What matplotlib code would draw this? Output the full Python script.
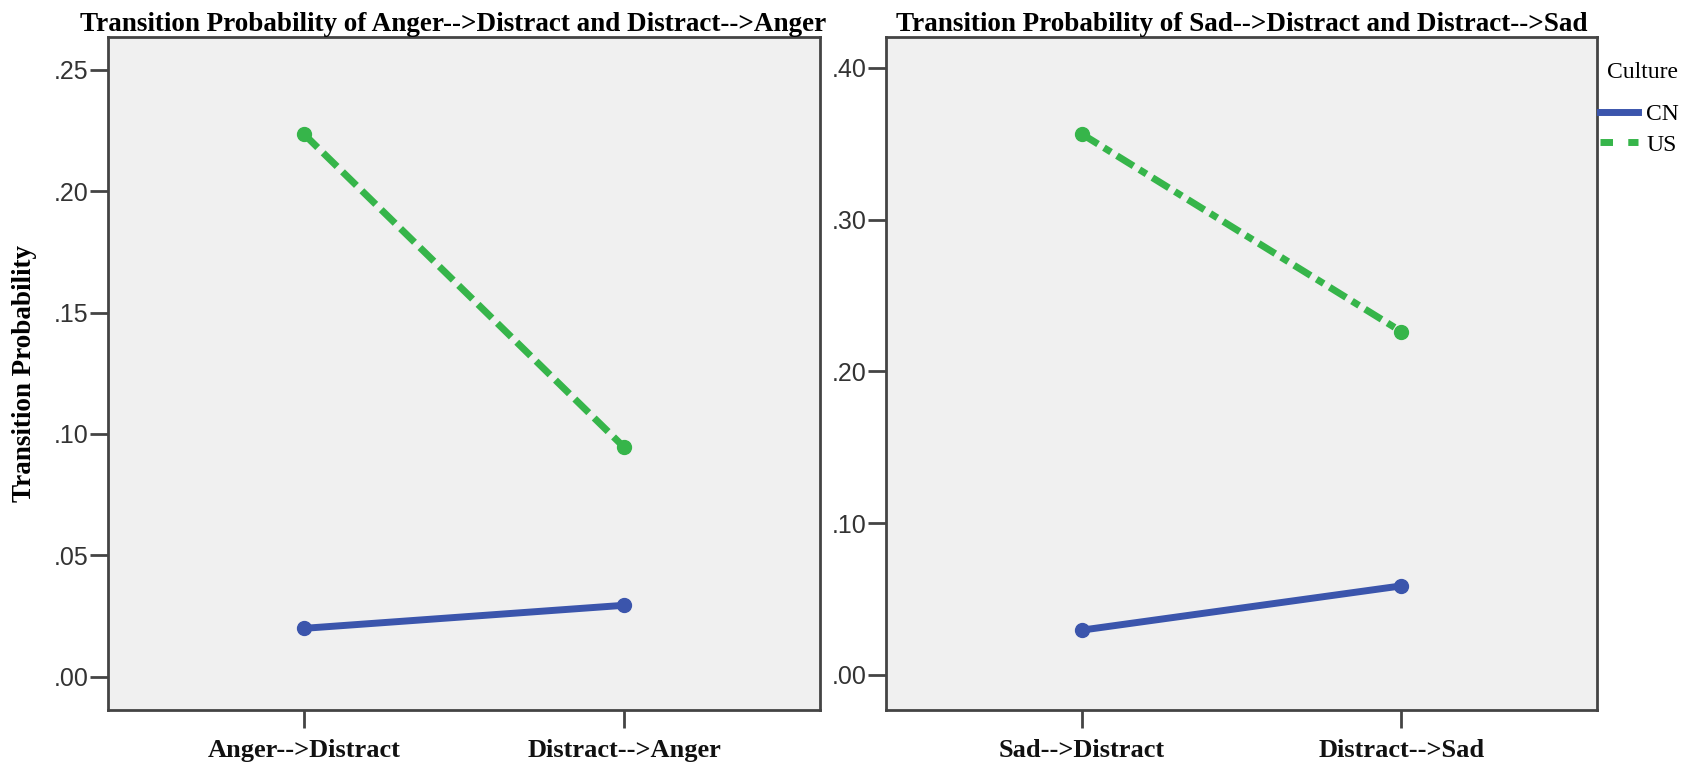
import matplotlib
matplotlib.use('Agg')
import matplotlib.pyplot as plt
from matplotlib.lines import Line2D
from matplotlib.ticker import FuncFormatter

###############################
# Data

anger_cats = ['Anger-->Distract', 'Distract-->Anger']
anger_cn = [0.020, 0.0295]
anger_us = [0.2235, 0.0945]

sad_cats = ['Sad-->Distract', 'Distract-->Sad']
sad_cn = [0.0295, 0.0587]
sad_us = [0.3566, 0.2262]

anger_yticks = [0.00, 0.05, 0.10, 0.15, 0.20, 0.25]
sad_yticks = [0.00, 0.10, 0.20, 0.30, 0.40]

titles = ['Transition Probability of Anger-->Distract and Distract-->Anger',
          'Transition Probability of Sad-->Distract and Distract-->Sad']

cultures = ['CN', 'US']

###############################
# Style

blue = '#3b55ac'
green = '#36b54a'
bg = '#f0f0f0'
spine_col = '#444444'
serif = 'Liberation Serif'
sans = 'Liberation Sans'

W, H = 1702, 763
fig = plt.figure(figsize=(W / 100, H / 100), dpi=100)

def fmt(v, pos):
    return '%.2f' % v if v < 0 else ('%.2f' % v).lstrip('0')

def panel(rect, cats, cn, us, yticks, ylim, us_dash, title, tx):
    ax = fig.add_axes(rect)
    ax.set_facecolor(bg)
    x = range(len(cats))
    ax.plot(x, cn, color=blue, lw=5, marker='o', ms=10, solid_capstyle='round')
    ax.plot(x, us, color=green, lw=5, marker='o', ms=10,
            linestyle=(0, us_dash), dash_capstyle='butt')
    ax.set_xlim(-0.611, 1.611)
    ax.set_ylim(ylim)
    ax.set_xticks(list(x))
    ax.set_xticklabels(cats, fontfamily=serif, fontweight='bold', fontsize=19,
                       color='#111111')
    ax.set_yticks(yticks)
    ax.yaxis.set_major_formatter(FuncFormatter(fmt))
    for lab in ax.get_yticklabels():
        lab.set_fontfamily(sans)
        lab.set_fontsize(18)
        lab.set_color('#333333')
    ax.tick_params(axis='both', length=13, width=2, color=spine_col)
    ax.tick_params(axis='y', pad=1)
    ax.tick_params(axis='x', pad=8)
    for sp in ax.spines.values():
        sp.set_color(spine_col)
        sp.set_linewidth(2)
    ax.set_title(title, fontfamily=serif, fontweight='bold', fontsize=19.5,
                 pad=4, x=tx)
    return ax

def frac(x0, y0, x1, y1):
    return [x0 / W, 1 - y1 / H, (x1 - x0) / W, (y1 - y0) / H]

ax1 = panel(frac(108, 37, 820, 710), anger_cats, anger_cn, anger_us,
            anger_yticks, (-0.0136, 0.2634), (2.8, 1.1), titles[0], 0.485)
ax2 = panel(frac(886, 37, 1597, 710), sad_cats, sad_cn, sad_us,
            sad_yticks, (-0.0231, 0.4204), (2.8, 1.0, 1.2, 1.0), titles[1], 0.5)

ax1.set_ylabel('Transition Probability', fontfamily=serif, fontweight='bold',
               fontsize=19.5, labelpad=12)

# legend
fig.text(1607 / W, 1 - 72 / H, 'Culture', fontfamily=serif, fontsize=17,
         ha='left', va='center')
handles = [Line2D([], [], color=blue, lw=5),
           Line2D([], [], color=green, lw=5, linestyle=(0, (1.8, 2.2)))]
leg = fig.legend(handles, cultures, loc='upper left',
                 bbox_to_anchor=(1579 / W, 1 - 82 / H), frameon=False,
                 prop={'family': serif, 'size': 17}, handlelength=1.6,
                 handletextpad=0.35, labelspacing=0.4)

fig.savefig('out.png', dpi=100)
